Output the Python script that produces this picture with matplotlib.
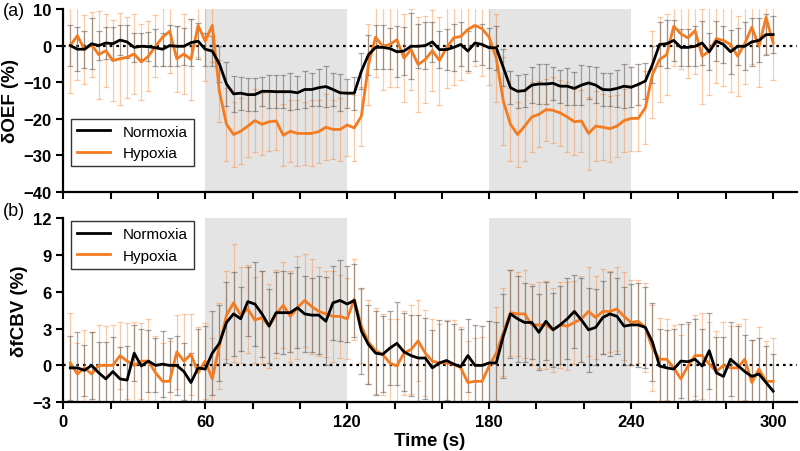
import numpy as np
import matplotlib
matplotlib.use("Agg")
import matplotlib.pyplot as plt

# time points (s), TR = 3 s
time = np.arange(3, 301, 3)

# dOEF (%) - normoxia / hypoxia, mean and error
oef_norm = [0, -1, -1, 0.5, 0, 0.7, 0.5, 1.5, 1, -0.5,
            -0.2, -0.3, -0.6, -1, 0, -0.2, -0.2, 0.8, 1.2, -1,
            -1.5, -5, -10.5, -13.2, -13, -13.4, -13.4, -12.5, -12.5, -12.6,
            -12.6, -12.6, -12.9, -12, -12, -11.5, -11.2, -12, -12.9, -13,
            -13, -7, -2.5, -0.5, -0.5, -0.8, -1.7, -1.5, -0.2, -0.2,
            0, 1, -1.1, -1.1, -0.5, 0.3, -1.5, 0.7, 0.3, -0.6,
            -0.6, -6, -11.5, -12.5, -12.3, -10.8, -10.5, -10.5, -10.3, -11.1,
            -11.1, -11.7, -10.8, -10.2, -10.8, -12, -12.1, -11.7, -11.1, -11.4,
            -10.6, -9.7, -5.2, 0.3, 0.5, 1.4, -0.5, -0.5, -0.2, 0.7,
            -1.7, 1.2, 0.3, -1.7, -0.2, -0.2, 1, 1.4, 3, 3]
oef_hyp = [0, 2.7, -1.1, 0.3, -2.5, -1.4, -4.1, -3.6, -3.2, -2.3,
           -4.5, -2.9, -0.2, 2.3, 3.9, -3.6, -2.3, -3.8, 5.5, 1.2,
           5.5, -12.5, -21.5, -24.3, -23.4, -22, -20.5, -21.5, -20.8, -20.6,
           -24.5, -23.4, -24, -24, -24, -23.5, -22.3, -22.9, -22.9, -21.7,
           -22.5, -19.3, -5.2, 2.3, -0.2, 0.3, 1.6, -3.4, -1.1, -5.2,
           -3.8, -1.4, -4.1, -0.6, 2.1, 2.5, 4.4, 5.5, 4.6, 2.3,
           -3.4, -15.2, -21.5, -24.3, -22, -19.5, -18.8, -17.5, -17.7, -18.4,
           -19.5, -20.8, -20.6, -24, -22, -22.3, -22.7, -22, -20.5, -19.9,
           -19.9, -17, -7.9, -3.8, -2.5, 5.3, 3.2, 2.1, 4.1, -2.9,
           -1.5, 1.9, 1.4, 0.3, -2.9, 0.5, 5, -0.2, 7.7, 0.7]
oef_norm_err = [5.5, 6, 5, 7, 4, 4.5, 4.5, 4, 4.5, 4,
                3.5, 4, 5, 4.5, 5.5, 5.5, 5, 6.5, 5, 4.5,
                4, 5, 6, 5, 4.5, 4.5, 4.5, 4, 4.5, 4.5,
                4.5, 5, 4.5, 5, 4.5, 5, 5.5, 4.5, 5, 4,
                4.5, 5, 5.5, 6, 6, 5.5, 7, 6.5, 9, 6,
                6.5, 5.5, 5, 5.5, 6.5, 6, 5.5, 5, 5.5, 5.5,
                6, 5, 4.5, 4.5, 4.5, 5, 5.5, 5.5, 4.5, 4.5,
                5, 4.5, 5.5, 4.5, 5, 4.5, 4.5, 5, 6, 5.5,
                5.5, 5, 5, 6, 6.5, 5.5, 5, 5, 5.5, 6,
                5, 5.5, 5, 6, 5, 6.5, 6.5, 6, 5.5, 5]
oef_hyp_err = [13, 12, 9.5, 9, 12, 10, 11, 12.5, 11, 11,
               10.5, 9.5, 8.5, 8, 11.5, 9, 11, 11, 8.5, 11,
               10, 8.5, 10, 9, 9, 8.5, 8.5, 8.5, 8, 8,
               8.5, 8.5, 9, 8.5, 9, 8.5, 9, 8, 8.5, 8.5,
               9, 8, 11, 11, 12, 11.5, 13, 12, 11, 13,
               12, 11, 12, 11, 13, 12, 12, 11, 13, 13,
               12, 12, 10, 9, 9.5, 9.5, 9, 8.5, 9, 9,
               9.5, 9, 8.5, 10, 9.5, 9, 9, 8.5, 8.5, 9,
               9, 10, 12, 11.5, 11, 11, 9.5, 11, 12, 13,
               12, 12, 12.5, 13, 11, 11, 10, 11, 10, 10]

# dfCBV (%) - normoxia / hypoxia, mean and error
cbv_norm = [-0.2, -0.2, -0.4, 0, -0.6, -1.1, -0.5, -1.1, -1.2, 1.0,
            -0.05, 0.35, 0, 0.1, 0, 0, -0.5, -1.4, -0.2, -0.3,
            1.0, 1.8, 3.5, 4.2, 3.8, 5.2, 5.0, 4.2, 3.2, 4.3,
            4.3, 4.3, 4.7, 4.2, 4.1, 4.1, 3.6, 5.1, 5.3, 5.0,
            5.3, 2.8, 1.7, 1.0, 0.9, 1.4, 1.8, 1.1, 0.8, 0.6,
            0.6, -0.2, 0.2, 0.4, 0.1, -0.1, 0.8, 0, 0, 0.2,
            0.2, 2.4, 4.2, 3.8, 3.5, 3.5, 2.7, 3.6, 2.9, 3.3,
            3.8, 4.4, 3.7, 2.9, 3.1, 3.9, 4.2, 4.0, 3.2, 3.3,
            3.3, 3.1, 1.9, -0.05, -0.2, -0.3, 0.35, 0.3, 0.5, -0.05,
            1.2, -0.6, -0.9, 0.5, 0, -0.5, -0.9, -0.7, -1.4, -2.1]
cbv_hyp = [0.2, -0.7, -0.2, -0.7, 0, 0, 0, 0.8, 0.35, 0,
           0.35, 0.35, -0.6, -1.3, -1.3, 1.1, 0.35, 0.9, -0.6, 0.35,
           -1.1, 1.6, 4.1, 5.1, 4.1, 4.6, 3.7, 3.9, 3.2, 4.2,
           4.9, 4.0, 4.7, 5.3, 4.8, 4.4, 4.2, 4.0, 4.0, 3.8,
           5.4, 3.2, 1.9, 1.2, 0.9, 0.2, -0.05, 1.0, 1.3, 2.0,
           1.0, 0.35, 0.2, 0.2, 0.1, -0.2, -1.4, -1.3, -1.3, -0.05,
           1.0, 2.7, 4.3, 4.2, 4.2, 3.3, 3.3, 3.3, 2.9, 3.3,
           3.2, 3.5, 3.8, 4.4, 3.9, 4.4, 4.4, 4.6, 4.0, 3.5,
           3.6, 3.1, 1.4, 0.5, 0.5, -0.2, -1.1, -0.05, 0.8, 0.8,
           0.1, -0.5, 0, -0.2, -0.2, 0.5, -1.4, -0.3, -1.3, -1.3]
cbv_norm_err = [2.6, 2.9, 2.1, 2.7, 2.5, 3, 2.8, 2.6, 2.8, 2.3,
                3, 2.5, 2.2, 2.7, 2.2, 2.4, 2.3, 2.4, 3.2, 3.5,
                3.4, 3.1, 3.3, 3.4, 2.6, 2.8, 3.4, 3.5, 3.0, 3.3,
                3.4, 3.2, 3.3, 3.1, 3.0, 3.2, 3.6, 3.0, 3.3, 3.1,
                3.0, 3.5, 3.2, 3.4, 3.1, 3.0, 3.4, 3.2, 3.3, 3.5,
                3.3, 3.1, 3.5, 3.2, 3.3, 3.1, 3.0, 3.3, 3.2, 3.4,
                3.3, 3.4, 3.6, 3.5, 3.2, 3.0, 3.1, 3.2, 3.0, 3.2,
                3.3, 3.0, 3.4, 3.4, 3.1, 3.0, 3.4, 3.1, 3.2, 3.3,
                3.4, 3.3, 3.2, 3.0, 3.1, 3.3, 3.0, 3.2, 3.3, 3.0,
                3.1, 2.9, 3.2, 3.0, 3.2, 3.0, 3.0, 2.9, 3.0, 3.0]
cbv_hyp_err = [4.1, 2.5, 3.1, 3.4, 3.3, 3.2, 3.3, 2.7, 3.1, 3.5,
               3.1, 3.4, 3.0, 3.1, 3.3, 3.0, 3.8, 3.3, 3.7, 3.1,
               3.3, 3.5, 3.6, 4.8, 3.9, 3.6, 3.5, 3.8, 3.4, 3.6,
               3.5, 3.7, 4.2, 3.8, 3.9, 3.6, 3.5, 3.7, 3.4, 3.3,
               3.3, 3.0, 3.4, 3.5, 3.3, 3.6, 3.8, 3.4, 3.6, 3.3,
               3.5, 3.4, 3.2, 3.5, 3.6, 3.3, 3.4, 3.5, 3.6, 3.7,
               3.8, 3.6, 3.5, 3.4, 3.6, 3.3, 3.5, 3.6, 3.4, 3.5,
               3.6, 3.4, 3.5, 3.6, 3.4, 3.5, 3.3, 3.4, 3.6, 3.5,
               3.4, 3.6, 3.5, 3.4, 3.3, 3.5, 3.6, 3.4, 3.3, 3.5,
               3.4, 3.3, 3.5, 3.4, 3.6, 3.3, 3.5, 3.4, 3.3, 3.5]

blocks = [(60, 120), (180, 240)]
orange = "#f47b20"

plt.rcParams['font.family'] = ['Liberation Sans', 'DejaVu Sans']

fig = plt.figure(figsize=(8, 4.52), dpi=100)
ax1 = fig.add_axes([0.079, 0.573, 0.917, 0.405])
ax2 = fig.add_axes([0.079, 0.108, 0.917, 0.407])


def draw_panel(ax, norm, norm_err, hyp, hyp_err, ylim, yticks, ylabel):
    for a, b in blocks:
        ax.axvspan(a, b, color="#e4e4e4", lw=0, zorder=0)
    ax.axhline(0, color="k", ls=(0, (1.2, 1.8)), lw=1.6, zorder=1)
    ax.errorbar(time, hyp, yerr=hyp_err, fmt="none", ecolor=orange, alpha=0.38,
                elinewidth=0.9, capsize=2, capthick=0.9, zorder=2)
    ax.errorbar(time, norm, yerr=norm_err, fmt="none", ecolor="#5a4d46", alpha=0.5,
                elinewidth=0.9, capsize=2, capthick=0.9, zorder=2)
    ax.plot(time, norm, color="k", lw=2, label="Normoxia", zorder=4)
    ax.plot(time, hyp, color=orange, lw=2, label="Hypoxia", zorder=3)
    ax.set_xlim(0, 310)
    ax.set_ylim(*ylim)
    ax.set_yticks(yticks)
    ax.set_xticks(np.arange(0, 301, 20))
    for s in ["top", "right"]:
        ax.spines[s].set_visible(False)
    for s in ["left", "bottom"]:
        ax.spines[s].set_linewidth(1.6)
    ax.tick_params(width=1.5, length=5, labelsize=12)
    for lab in ax.get_yticklabels():
        lab.set_fontweight("bold")
    ax.set_ylabel(ylabel, fontsize=13.5, fontweight="bold", labelpad=3)
    return ax.get_legend_handles_labels()


h, l = draw_panel(ax1, oef_norm, oef_norm_err, oef_hyp, oef_hyp_err,
                  (-40, 10), np.arange(-40, 11, 10), "δOEF (%)")
ax1.set_xticklabels([])
leg = ax1.legend(h, l, loc="lower left", bbox_to_anchor=(0.01, 0.14), fontsize=11,
                 fancybox=False, framealpha=1, edgecolor="#333333", handlelength=2.2,
                 borderaxespad=0)
leg.get_frame().set_linewidth(1.0)

h, l = draw_panel(ax2, cbv_norm, cbv_norm_err, cbv_hyp, cbv_hyp_err,
                  (-3, 12), np.arange(-3, 13, 3), "δfCBV (%)")
ax2.set_xticklabels([str(v) if v % 60 == 0 else "" for v in range(0, 301, 20)],
                    fontweight="bold")
ax2.set_xlabel("Time (s)", fontsize=13.5, fontweight="bold", labelpad=2)
leg = ax2.legend(h, l, loc="upper left", bbox_to_anchor=(0.01, 0.985), fontsize=11,
                 fancybox=False, framealpha=1, edgecolor="#333333", handlelength=2.2,
                 borderaxespad=0)
leg.get_frame().set_linewidth(1.0)

fig.text(0.004, 0.975, "(a)", fontsize=13, va="center")
fig.text(0.004, 0.531, "(b)", fontsize=13, va="center")

fig.savefig("out.png", dpi=100)
